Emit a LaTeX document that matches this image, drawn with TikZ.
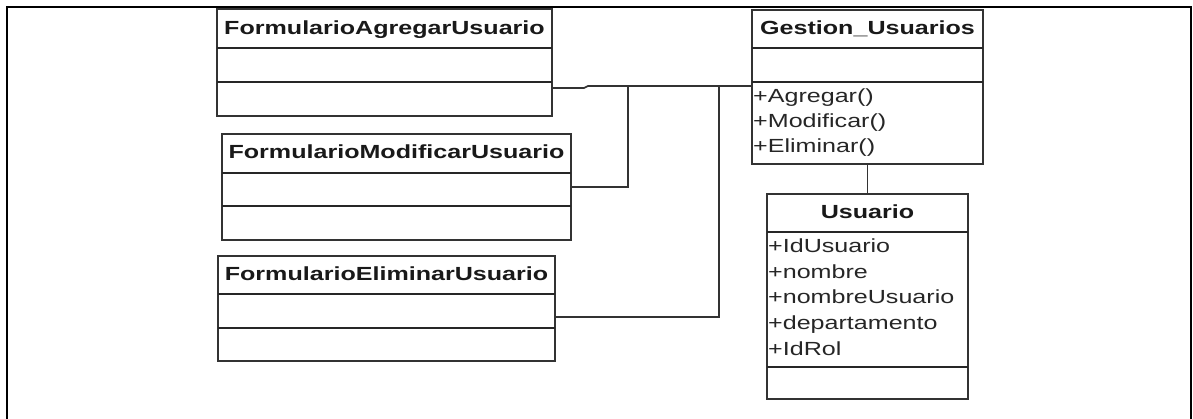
\documentclass[tikz,border=0pt]{standalone}
\usepackage{fontspec}
\setmainfont{Liberation Sans}[FakeStretch=1.32]
\begin{document}
\begin{tikzpicture}[x=1pt,y=-1pt,
  classbox/.style={draw=black!80, line width=1.9pt, rectangle, inner sep=0pt, outer sep=0pt, anchor=north west},
  divider/.style={draw=black!85, line width=1.6pt},
  cname/.style={anchor=base, inner sep=0pt, font=\fontsize{19}{23}\selectfont\bfseries, text=black!90},
  member/.style={anchor=base west, inner sep=0pt, font=\fontsize{19}{23}\selectfont, text=black!85},
  link/.style={draw=black!80, line width=1.7pt},
  outerframe/.style={draw=black, line width=2.4pt}]
\useasboundingbox (0,0) rectangle (1193,419);

% outer frame (open at the bottom)
\draw[outerframe] (7,419) -- (7,7) -- (1191,7) -- (1191,419);

% FormularioAgregarUsuario
\node[classbox, minimum width=335pt, minimum height=107pt] (fa) at (217,9) {};
\node[cname] (faname) at (384.5,35) {FormularioAgregarUsuario};
\draw[divider] (fa.west |- 0,48) -- (fa.east |- 0,48);
\draw[divider] (fa.west |- 0,82) -- (fa.east |- 0,82);

% FormularioModificarUsuario
\node[classbox, minimum width=349pt, minimum height=106pt] (fm) at (222,134) {};
\node[cname] (fmname) at (396.5,159) {FormularioModificarUsuario};
\draw[divider] (fm.west |- 0,173) -- (fm.east |- 0,173);
\draw[divider] (fm.west |- 0,206) -- (fm.east |- 0,206);

% FormularioEliminarUsuario
\node[classbox, minimum width=337pt, minimum height=105pt] (fe) at (218,256) {};
\node[cname] (fename) at (386.5,281) {FormularioEliminarUsuario};
\draw[divider] (fe.west |- 0,294) -- (fe.east |- 0,294);
\draw[divider] (fe.west |- 0,328) -- (fe.east |- 0,328);

% Gestion_Usuarios
\node[classbox, minimum width=231pt, minimum height=154pt] (gu) at (752,10) {};
\node[cname] (guname) at (867.5,35) {Gestion\_Usuarios};
\draw[divider] (gu.west |- 0,48) -- (gu.east |- 0,48);
\draw[divider] (gu.west |- 0,82) -- (gu.east |- 0,82);
\node[member] (gu1) at (753,103) {+Agregar()};
\node[member] (gu2) at (753,128) {+Modificar()};
\node[member] (gu3) at (753,153) {+Eliminar()};

% Usuario
\node[classbox, minimum width=201pt, minimum height=205pt] (us) at (767,194) {};
\node[cname] (usname) at (867.5,218.5) {Usuario};
\draw[divider] (us.west |- 0,232) -- (us.east |- 0,232);
\draw[divider] (us.west |- 0,367) -- (us.east |- 0,367);
\node[member] (us1) at (768,253) {+IdUsuario};
\node[member] (us2) at (768,278.5) {+nombre};
\node[member] (us3) at (768,304) {+nombreUsuario};
\node[member] (us4) at (768,329.5) {+departamento};
\node[member] (us5) at (768,355) {+IdRol};

% associations
\draw[link] (fa.east |- 0,88) -- (584,88) -- (588,86) -- (gu.west |- 0,86);
\draw[link] (fm.east |- 0,187) -- (628,187) -- (628,86);
\draw[link] (fe.east |- 0,317) -- (719,317) -- (719,86);
\draw[link] (gu.south) -- (us.north);
\end{tikzpicture}
\end{document}
